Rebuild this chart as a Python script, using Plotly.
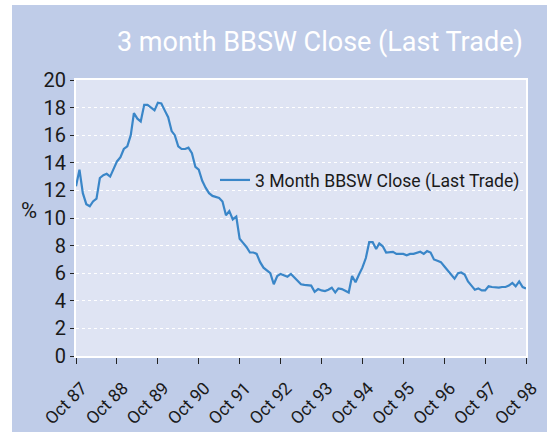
import plotly.graph_objects as go
import pandas as pd

# Monthly 3-month BBSW closes, Oct 1987 .. Oct 1998
start_month = "1987-10-01"
rates = [
    12.3, 13.5, 11.8, 11.0, 10.85, 11.2, 11.4, 12.9, 13.1, 13.2,
    13.0, 13.6, 14.1, 14.4, 15.0, 15.2, 16.0, 17.6, 17.2, 17.0,
    18.2, 18.2, 18.0, 17.8, 18.35, 18.3, 17.8, 17.3, 16.3, 16.0,
    15.2, 15.0, 15.0, 15.1, 14.7, 13.7, 13.5, 12.7, 12.2, 11.8,
    11.6, 11.55, 11.45, 11.2, 10.2, 10.5, 9.9, 10.1, 8.5, 8.2,
    7.9, 7.5, 7.5, 7.4, 6.8, 6.4, 6.2, 6.0, 5.2, 5.8,
    5.95, 5.85, 5.75, 5.95, 5.7, 5.4, 5.2, 5.15, 5.15, 5.1,
    4.65, 4.85, 4.75, 4.7, 4.8, 4.95, 4.6, 4.9, 4.85, 4.75,
    4.6, 5.8, 5.35, 5.9, 6.4, 7.1, 8.25, 8.25, 7.75, 8.15,
    7.95, 7.5, 7.55, 7.55, 7.4, 7.4, 7.4, 7.3, 7.4, 7.4,
    7.45, 7.55, 7.4, 7.6, 7.5, 7.0, 6.9, 6.8, 6.5, 6.2,
    5.9, 5.6, 6.0, 6.05, 5.9, 5.4, 5.1, 4.8, 4.9, 4.75,
    4.75, 5.05, 5.0, 4.95, 4.95, 5.0, 5.0, 5.1, 5.3, 5.05,
    5.4, 5.0, 4.9,
]
dates = pd.date_range(start_month, periods=len(rates), freq="MS")

tick_dates = [f"{y}-10-01" for y in range(1987, 1999)]
tick_labels = ["Oct 87", "Oct 88", "Oct 89", "Oct 90", "Oct 91", "Oct 92",
               "Oct 93", "Oct 94", "Oct 95", "Oct 96", "Oct 97", "Oct 98"]
y_ticks = list(range(0, 21, 2))

series_name = "3 Month BBSW Close (Last Trade)"
title_text = "3 month BBSW Close (Last Trade)"

FONT = "Roboto, Liberation Sans Narrow, DejaVu Sans, sans-serif"
OUTER = "#BFCCE8"
INNER = "#DFE4F3"
LINE = "#3A86C8"

W, H = 547, 432
# plot area in pixels: x 76..526, y 80..356
L, R, T, B = 76, W - 526, 80, H - 356
pw, ph = W - L - R, H - T - B

def px_x(p):
    return (p - L) / pw

def px_y(p):
    return (H - B - p) / ph

fig = go.Figure()
fig.add_trace(go.Scatter(x=dates, y=rates, mode="lines", name=series_name,
                         line=dict(color=LINE, width=2.2)))

fig.update_layout(
    width=W, height=H,
    margin=dict(l=L, r=R, t=T, b=B, pad=0, autoexpand=False),
    paper_bgcolor=OUTER,
    plot_bgcolor=INNER,
    font=dict(family=FONT, color="#1a1a1a", size=18),
    showlegend=True,
    legend=dict(x=px_x(525), xanchor="right", y=px_y(180), yanchor="middle",
                bgcolor="rgba(0,0,0,0)", font=dict(size=17.6, family=FONT),
                itemwidth=30),
    xaxis=dict(
        type="date",
        range=[tick_dates[0], tick_dates[-1]],
        tickvals=tick_dates, ticktext=tick_labels,
        tickangle=-45, ticks="outside", ticklen=6, tickcolor="#222",
        ticklabelstandoff=7, ticklabelshift=6,
        showgrid=False, zeroline=False,
        showline=True, linecolor="white", linewidth=2, mirror=True,
        tickfont=dict(size=17.5),
    ),
    yaxis=dict(
        range=[0, 20], tickvals=y_ticks, ticks="outside", ticklen=4,
        tickcolor="#222",
        showgrid=True, gridcolor="white", griddash="dot", gridwidth=1.2,
        zeroline=False,
        showline=True, linecolor="white", linewidth=2, mirror=True,
        tickfont=dict(size=20),
    ),
    shapes=[
        dict(type="rect", xref="paper", yref="paper", layer="above",
             x0=px_x(0), x1=px_x(12), y0=px_y(H), y1=px_y(0),
             fillcolor="#FFFFFF", line=dict(width=0)),
        dict(type="rect", xref="paper", yref="paper", layer="above",
             x0=px_x(0), x1=px_x(W), y0=px_y(5), y1=px_y(0),
             fillcolor="#FFFFFF", line=dict(width=0)),
    ],
    annotations=[
        dict(text=title_text, xref="paper", yref="paper",
             x=px_x(525), xanchor="right", y=px_y(42), yanchor="middle",
             showarrow=False, font=dict(size=27, color="white", family=FONT)),
        dict(text="%", xref="paper", yref="paper",
             x=px_x(29), xanchor="center", y=px_y(210), yanchor="middle",
             showarrow=False, font=dict(size=22, family=FONT)),
    ],
)

fig.write_html(
    "out.html",
    config={"displayModeBar": False},
    post_script="document.body.style.margin='0';",
)
